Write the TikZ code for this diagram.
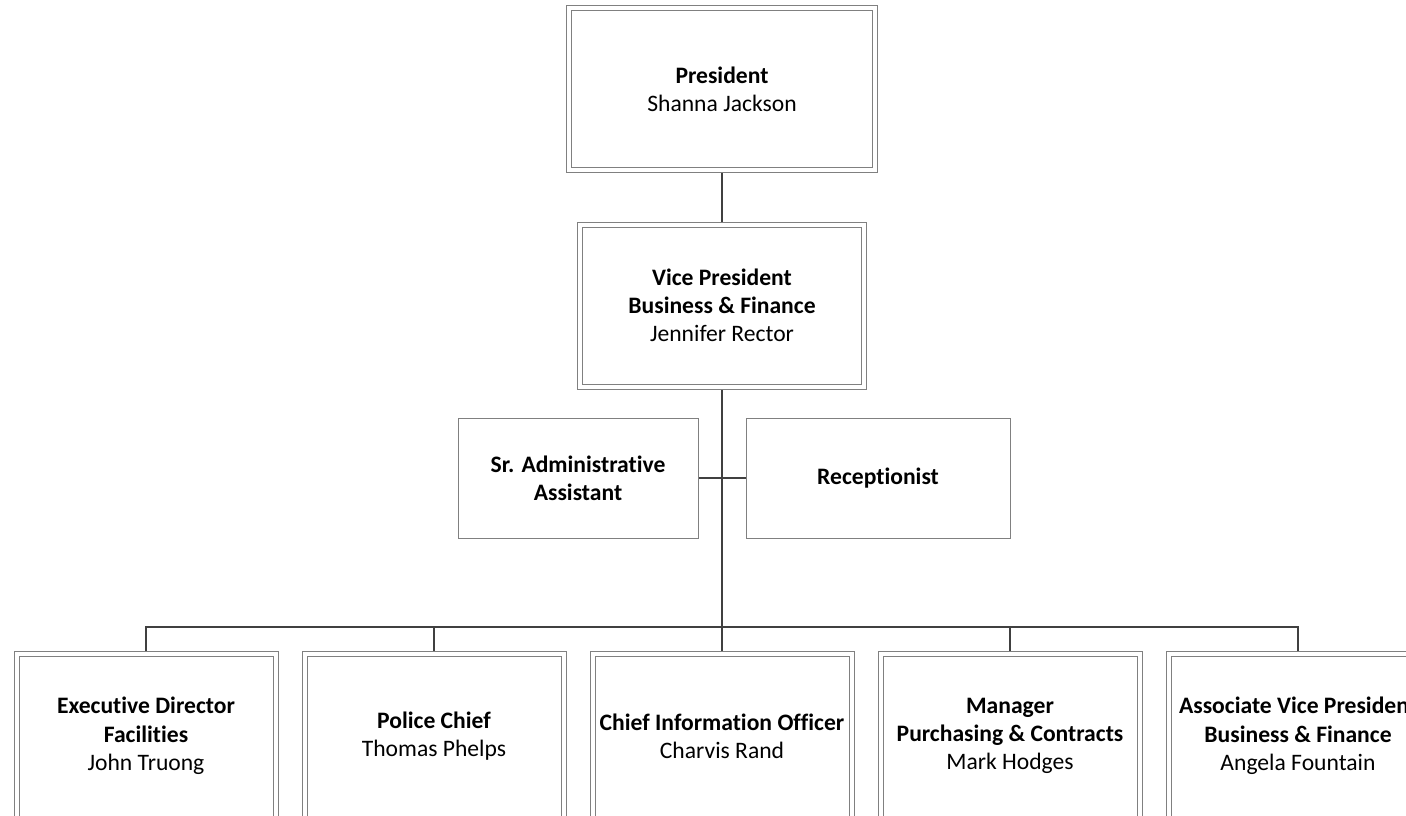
\documentclass[tikz,border=0pt]{standalone}
\usepackage{fontspec}
\setmainfont{Carlito}[Ligatures=NoCommon]
\usetikzlibrary{backgrounds}
\definecolor{boxgray}{HTML}{808080}
\definecolor{linegray}{HTML}{404040}
\begin{document}
\begin{tikzpicture}[x=0.75pt,y=-0.75pt,
  dbox/.style={draw=boxgray, line width=0.75pt, double=white, double distance=3pt,
    fill=white, inner sep=0pt, outer sep=0pt, align=center,
    font={\fontsize{17.7}{21.2}\selectfont}},
  sbox/.style={draw=boxgray, line width=0.75pt, fill=white, inner sep=0pt,
    outer sep=0pt, align=center, font={\fontsize{17.7}{21.2}\selectfont}},
  botbox/.style={dbox, minimum width=194.25pt, minimum height=123.75pt},
  conn/.style={draw=linegray, line width=2.2pt}]
\useasboundingbox (0,0) rectangle (1406,815);
\clip (0,0) rectangle (1406,815);

\node[dbox, minimum width=229.5pt, minimum height=121.5pt] (pres) at (722,89)
  {\textbf{President}\\Shanna Jackson};
\node[dbox, minimum width=213pt, minimum height=121.5pt] (vp) at (722,305.5)
  {\textbf{Vice President}\\\textbf{Business \& Finance}\\Jennifer Rector};
\node[sbox, minimum width=180pt, minimum height=90pt] (sa) at (578,478)
  {\textbf{Sr. Administrative}\\\textbf{Assistant}};
\node[sbox, minimum width=198pt, minimum height=90pt] (rc) at (878,478)
  {\textbf{Receptionist}};

\node[botbox] (b1) at (146,736) {\textbf{Executive Director}\\\textbf{Facilities}\\John Truong};
\node[botbox] (b2) at (434,736) {\textbf{Police Chief}\\Thomas Phelps};
\node[botbox] (b3) at (722,736) {\textbf{Chief Information Officer}\\Charvis Rand};
\node[botbox] (b4) at (1010,736) {\textbf{Manager}\\\textbf{Purchasing \& Contracts}\\Mark Hodges};
\node[botbox] (b5) at (1298,736) {\textbf{Associate Vice President}\\\textbf{Business \& Finance}\\Angela Fountain};

\begin{pgfonlayer}{background}
  \fill[white] (0,0) rectangle (1406,815);
  \coordinate (bus) at (722,627);
  \draw[conn] (pres.south) -- (vp.north);
  \draw[conn] (vp.south) -- (b3.north);
  \draw[conn] (sa.east) -- (rc.west);
  \draw[conn] (b1.north) |- (bus) -| (b5.north);
  \draw[conn] (b2.north) -- (b2.north |- bus);
  \draw[conn] (b4.north) -- (b4.north |- bus);
\end{pgfonlayer}
\end{tikzpicture}
\end{document}
